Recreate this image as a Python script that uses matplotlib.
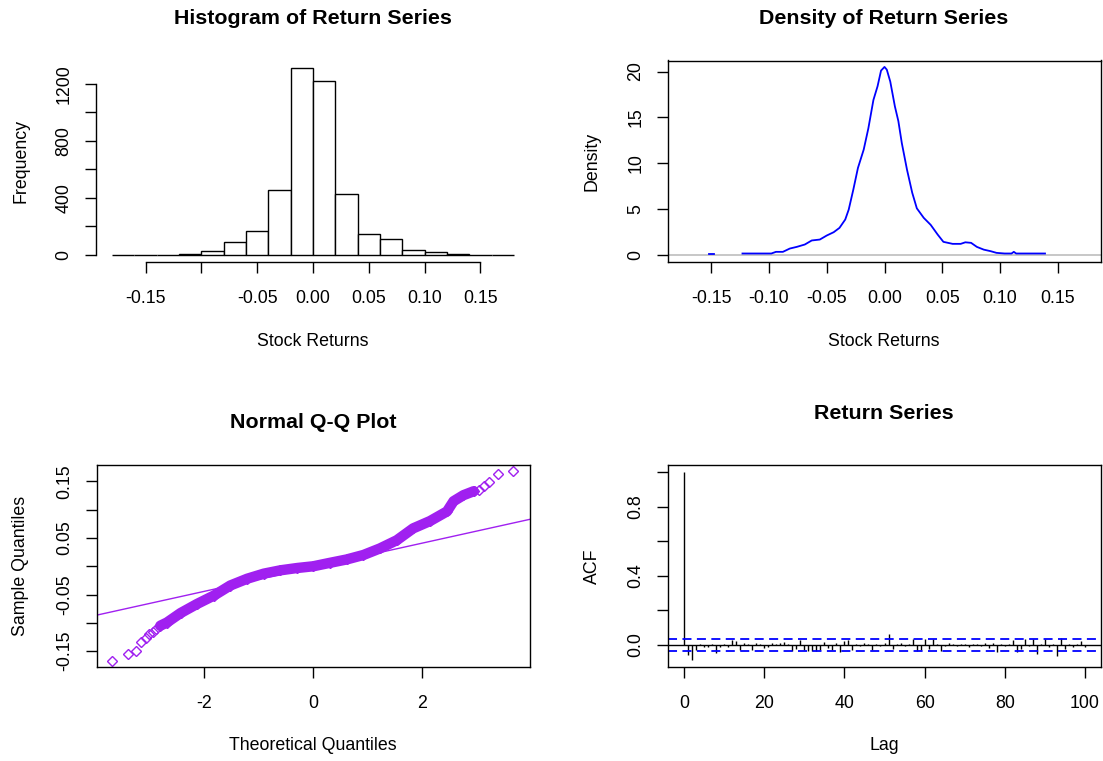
import matplotlib
matplotlib.use('Agg')
import matplotlib.pyplot as plt

plt.rcParams['font.family'] = ['Liberation Sans', 'DejaVu Sans']

# ---------------- data ----------------
hist_breaks = [-0.18, -0.16, -0.14, -0.12, -0.10, -0.08, -0.06, -0.04, -0.02, 0.00,
               0.02, 0.04, 0.06, 0.08, 0.10, 0.12, 0.14, 0.16, 0.18]
hist_counts = [0, 0, 0, 10, 30, 90, 165, 453, 1311, 1223, 425, 149, 109, 32, 23, 10, 0, 0]

dens_x = [-0.123, -0.098, -0.094, -0.088, -0.082, -0.076, -0.069, -0.063, -0.056, -0.050,
          -0.044, -0.039, -0.034, -0.031, -0.027, -0.023, -0.018, -0.014, -0.0096, -0.006,
          -0.003, 0.0, 0.002, 0.005, 0.009, 0.012, 0.015, 0.0195, 0.024, 0.028,
          0.034, 0.040, 0.046, 0.051, 0.059, 0.066, 0.070, 0.075, 0.080, 0.086,
          0.092, 0.097, 0.104, 0.110, 0.112, 0.114, 0.139]
dens_y = [0.18, 0.18, 0.36, 0.36, 0.72, 0.9, 1.16, 1.6, 1.7, 2.14,
          2.5, 2.97, 3.88, 4.96, 7.14, 9.5, 11.5, 13.8, 16.9, 18.4,
          20.1, 20.5, 20.2, 18.9, 16.2, 14.6, 12.2, 9.3, 6.8, 5.1,
          4.06, 3.3, 2.25, 1.45, 1.23, 1.23, 1.4, 1.34, 0.9, 0.6,
          0.43, 0.25, 0.18, 0.18, 0.36, 0.18, 0.18]
dens_iso_x = [-0.152, -0.148]
dens_iso_y = [0.18, 0.18]

# QQ: dense body and individual tail points (theoretical, sample)
qq_body_t = [-2.80, -2.68, -2.43, -2.13, -1.82, -1.52, -1.21, -0.905, -0.60, -0.29,
             0.0, 0.30, 0.61, 0.92, 1.22, 1.53, 1.83, 2.14, 2.45, 2.57, 2.75, 2.94]
qq_body_s = [-0.105, -0.0994, -0.0827, -0.0667, -0.0518, -0.034, -0.022, -0.013, -0.0071, -0.003,
             0.0, 0.006, 0.012, 0.020, 0.0315, 0.046, 0.067, 0.080, 0.097, 0.115, 0.1256, 0.1327]
qq_tail_t = [-3.69, -3.39, -3.25, -3.15, -3.06, -3.00, -2.94, -2.88,
             3.04, 3.12, 3.22, 3.38, 3.66]
qq_tail_s = [-0.1667, -0.155, -0.150, -0.133, -0.126, -0.120, -0.1155, -0.110,
             0.1357, 0.1417, 0.149, 0.1637, 0.168]
qq_line_z = [-0.6745, 0.6745]
qq_line_q = [-0.0161, 0.0127]

acf_vals = [1.0, -0.058, -0.088, -0.03, 0.005, -0.0135, -0.01, 0.008, -0.048, -0.012,
            0.006, -0.01, 0.029, 0.025, -0.029, 0.013, 0.004, -0.029, 0.013, 0.003,
            -0.019, -0.0135, 0.013, 0.004, 0.013, 0.019, 0.003, -0.033, -0.025, 0.029,
            -0.029, -0.033, -0.033, -0.033, -0.031, 0.019, -0.019, -0.029, 0.013, -0.042,
            0.025, 0.029, -0.029, 0.004, -0.005, 0.013, 0.004, -0.029, 0.005, -0.008,
            0.013, 0.065, -0.025, 0.004, 0.01, -0.006, 0.004, 0.033, -0.033, -0.029,
            0.033, -0.025, 0.033, 0.004, -0.033, -0.006, 0.013, 0.004, -0.006, 0.006,
            0.003, -0.0135, 0.004, 0.008, -0.004, 0.013, -0.019, 0.013, -0.039, 0.004,
            -0.006, 0.004, 0.029, -0.044, -0.025, 0.033, -0.006, 0.033, -0.052, 0.006,
            0.037, -0.010, 0.004, -0.067, 0.042, -0.025, 0.008, -0.0135, 0.004, 0.025,
            -0.01]
acf_ci = 0.033

# ---------------- layout ----------------
W, H = 1103, 761
fig = plt.figure(figsize=(W / 100, H / 100), dpi=100)
FS = 12.8
TFS = 15.4


def rect(x0, y0, x1, y1):
    return [x0 / W, 1 - y1 / H, (x1 - x0) / W, (y1 - y0) / H]


def ftext(px, py, s, **kw):
    fig.text(px / W, 1 - py / H, s, ha='center', va='center', **kw)


def style(ax):
    ax.tick_params(direction='out', length=8, width=1, labelsize=FS, colors='black')
    ax.tick_params(axis='x', pad=12)
    ax.tick_params(axis='y', labelrotation=90, pad=9)
    for lab in ax.get_yticklabels():
        lab.set_va('center')
    for sp in ax.spines.values():
        sp.set_linewidth(1)
        sp.set_color('black')


ax_h = fig.add_axes(rect(96, 60.5, 530, 262.5))
ax_d = fig.add_axes(rect(668, 60.5, 1101, 262.5))
ax_q = fig.add_axes(rect(97, 465, 530, 667))
ax_a = fig.add_axes(rect(668, 465, 1101, 667))

# ---- histogram ----
lefts = hist_breaks[:-1]
widths = [b - a for a, b in zip(hist_breaks[:-1], hist_breaks[1:])]
ax_h.bar(lefts, hist_counts, width=widths, align='edge', facecolor='white',
         edgecolor='black', linewidth=1)
ax_h.set_xlim(-0.1944, 0.1944)
ax_h.set_ylim(-52.4, 1363.4)
ax_h.spines['top'].set_visible(False)
ax_h.spines['right'].set_visible(False)
ax_h.spines['left'].set_bounds(0, 1200)
ax_h.spines['bottom'].set_bounds(-0.15, 0.15)
ax_h.set_xticks([-0.15, -0.10, -0.05, 0.0, 0.05, 0.10, 0.15])
ax_h.set_xticklabels(['-0.15', '', '-0.05', '0.00', '0.05', '0.10', '0.15'])
ax_h.set_yticks([0, 200, 400, 600, 800, 1000, 1200])
ax_h.set_yticklabels(['0', '', '400', '', '800', '', '1200'])
style(ax_h)

# ---- density ----
ax_d.axhline(0, color='#BEBEBE', lw=1.2)
ax_d.plot(dens_x, dens_y, color='#0000FF', lw=1.3)
ax_d.plot(dens_iso_x, dens_iso_y, color='#0000FF', lw=1.3)
ax_d.set_xlim(-0.1875, 0.1875)
ax_d.set_ylim(-0.8, 21.2)
ax_d.set_xticks([-0.15, -0.10, -0.05, 0.0, 0.05, 0.10, 0.15])
ax_d.set_xticklabels(['-0.15', '-0.10', '-0.05', '0.00', '0.05', '0.10', '0.15'])
ax_d.set_yticks([0, 5, 10, 15, 20])
ax_d.set_yticklabels(['0', '5', '10', '15', '20'])
style(ax_d)

# ---- QQ ----
purple = '#A020F0'
ax_q.axline((qq_line_z[0], qq_line_q[0]), (qq_line_z[1], qq_line_q[1]), color=purple, lw=1)
ax_q.plot(qq_body_t, qq_body_s, color=purple, lw=7.5, solid_capstyle='round')
ax_q.plot(qq_body_t, qq_body_s, linestyle='none', marker='D', markersize=5,
          markerfacecolor='none', markeredgecolor=purple, markeredgewidth=1)
ax_q.plot(qq_tail_t, qq_tail_s, linestyle='none', marker='D', markersize=5,
          markerfacecolor='none', markeredgecolor=purple, markeredgewidth=1)
ax_q.set_xlim(-3.96, 3.97)
ax_q.set_ylim(-0.178, 0.179)
ax_q.set_xticks([-2, 0, 2])
ax_q.set_xticklabels(['-2', '0', '2'])
ax_q.set_yticks([-0.15, -0.10, -0.05, 0.0, 0.05, 0.10, 0.15])
ax_q.set_yticklabels(['-0.15', '', '-0.05', '', '0.05', '', '0.15'])
style(ax_q)

# ---- ACF ----
lags = list(range(len(acf_vals)))
ax_a.vlines(lags, 0, acf_vals, color='black', lw=1)
ax_a.axhline(0, color='black', lw=1)
ax_a.axhline(acf_ci, color='#0000FF', lw=1.3, linestyle=(0, (5, 3)))
ax_a.axhline(-acf_ci, color='#0000FF', lw=1.3, linestyle=(0, (5, 3)))
ax_a.set_xlim(-4, 104)
ax_a.set_ylim(-0.128, 1.042)
ax_a.set_xticks([0, 20, 40, 60, 80, 100])
ax_a.set_xticklabels(['0', '20', '40', '60', '80', '100'])
ax_a.set_yticks([0.0, 0.2, 0.4, 0.6, 0.8, 1.0])
ax_a.set_yticklabels(['0.0', '', '0.4', '', '0.8', ''])
style(ax_a)

# ---- titles and labels ----
ftext(313, 18, 'Histogram of Return Series', fontsize=TFS, fontweight='bold')
ftext(884, 18, 'Density of Return Series', fontsize=TFS, fontweight='bold')
ftext(313, 423, 'Normal Q-Q Plot', fontsize=TFS, fontweight='bold')
ftext(884, 414, 'Return Series', fontsize=TFS, fontweight='bold')

ftext(313, 341, 'Stock Returns', fontsize=FS)
ftext(884, 341, 'Stock Returns', fontsize=FS)
ftext(313, 746, 'Theoretical Quantiles', fontsize=FS)
ftext(884, 746, 'Lag', fontsize=FS)
ftext(21, 161, 'Frequency', fontsize=FS, rotation=90)
ftext(592, 161, 'Density', fontsize=FS, rotation=90)
ftext(21, 566, 'Sample Quantiles', fontsize=FS, rotation=90)
ftext(592, 566, 'ACF', fontsize=FS, rotation=90)

fig.savefig('out.png', dpi=100)
